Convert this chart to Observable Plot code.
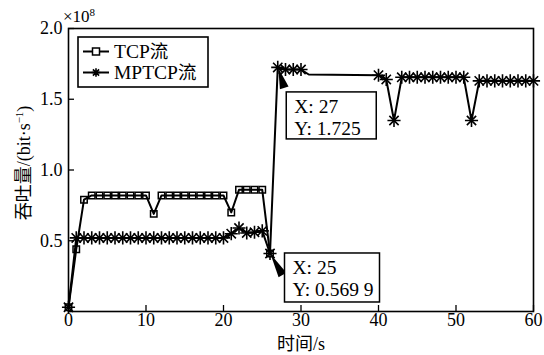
<!DOCTYPE html>
<html><head><meta charset="utf-8">
<script src="https://cdn.jsdelivr.net/npm/d3@7"></script>
<script src="https://cdn.jsdelivr.net/npm/@observablehq/plot@0.6"></script>
<style>
body{margin:0;background:#fff}
#wrap{position:relative;width:544px;height:355px;overflow:hidden}
</style></head>
<body><div id="wrap"></div>
<script>
// ---- data (values in units of 10^8 bit/s) ----
const tcpTime  = [0,1,2,3,4,5,6,7,8,9,10,11,12,13,14,15,16,17,18,19,20,21,22,23,24,25,26];
const tcpValue = [0.03,0.44,0.79,0.82,0.82,0.82,0.82,0.82,0.82,0.82,0.82,0.69,0.82,0.82,0.82,0.82,0.82,0.82,0.82,0.82,0.82,0.70,0.86,0.86,0.86,0.86,0.41];
const mptcpTime  = [0,1,2,3,4,5,6,7,8,9,10,11,12,13,14,15,16,17,18,19,20,21,22,23,24,25,26,27,28,29,30,31,40,41,42,43,44,45,46,47,48,49,50,51,52,53,54,55,56,57,58,59,60];
const mptcpValue = [0.03,0.52,0.52,0.52,0.52,0.52,0.52,0.52,0.52,0.52,0.52,0.52,0.52,0.52,0.52,0.52,0.52,0.52,0.52,0.52,0.52,0.55,0.59,0.555,0.56,0.5699,0.41,1.725,1.71,1.71,1.71,1.675,1.67,1.64,1.35,1.655,1.655,1.655,1.655,1.655,1.655,1.655,1.655,1.655,1.35,1.63,1.63,1.63,1.63,1.63,1.63,1.63,1.63];
const mptcpUnmarked = [31];
const seriesNames = ["TCP流","MPTCP流"];
const xTicks = [0,10,20,30,40,50,60];
const yTicks = [0.5,1.0,1.5,2.0];
const tips = [
  {label:["X: 27","Y: 1.725"], x:27, y:1.725},
  {label:["X: 25","Y: 0.569 9"], x:26, y:0.41}
];

const SERIF = "'Liberation Serif', 'Times New Roman', 'DejaVu Serif', serif";
const CJK = "'Noto Sans CJK SC', sans-serif";

const tcp = tcpTime.map((t,i)=>({t, v:tcpValue[i]}));
const mptcp = mptcpTime.map((t,i)=>({t, v:mptcpValue[i]}));
const mptcpMarked = mptcp.filter(d=>!mptcpUnmarked.includes(d.t));

const plot = Plot.plot({
  width:544, height:355,
  marginLeft:68, marginRight:11, marginTop:28, marginBottom:44,
  x:{domain:[0,60]},
  y:{domain:[0,2]},
  style:{fontFamily:SERIF, fontSize:"18px", color:"#000", background:"#fff", overflow:"visible"},
  marks:[
    Plot.axisX(xTicks,{tickSize:-6, tickPadding:8, label:null, fontSize:18, strokeWidth:1.3}),
    Plot.axisY(yTicks,{tickSize:-6, tickPadding:12, label:null, fontSize:18, strokeWidth:1.3, tickFormat:d3.format(".1f")}),
    Plot.frame({stroke:"#000", strokeWidth:1.6}),
    Plot.line(tcp,{x:"t", y:"v", stroke:"#000", strokeWidth:2, curve:"linear"}),
    Plot.line(mptcp,{x:"t", y:"v", stroke:"#000", strokeWidth:2, curve:"linear"}),
    Plot.dot(tcp,{x:"t", y:"v", symbol:"square2", r:4.1, stroke:"#000", strokeWidth:1.5}),
    Plot.dot(mptcpMarked,{x:"t", y:"v", symbol:"plus", r:4.3, stroke:"#000", strokeWidth:1.6}),
    Plot.dot(mptcpMarked,{x:"t", y:"v", symbol:"times", r:4.3, stroke:"#000", strokeWidth:1.6})
  ]
});
const wrap = document.getElementById("wrap");
wrap.appendChild(plot);

const sx = plot.scale("x"), sy = plot.scale("y");
const svg = d3.select(plot);

// data tips: arrow + box
const tipOffsets = [{bx:9, by:25, w:90, h:47}, {bx:15, by:0, w:95, h:49}];
tips.forEach((tp,i)=>{
  const px = sx.apply(tp.x), py = sy.apply(tp.y);
  const o = tipOffsets[i];
  const bx = px + o.bx, by = py + o.by;
  const tipX = px + 1, tipY = py + 1;
  const baseX = bx - 2, baseY = by + (i===0 ? -4 : 22);
  const ang = Math.atan2(baseY-tipY, baseX-tipX);
  const hw = 4.5;
  const p1 = [baseX - hw*Math.sin(ang), baseY + hw*Math.cos(ang)];
  const p2 = [baseX + hw*Math.sin(ang), baseY - hw*Math.cos(ang)];
  svg.append("polygon").attr("points", `${tipX},${tipY} ${p1} ${p2}`).attr("fill","#000");
  svg.append("rect").attr("x",bx).attr("y",by).attr("width",o.w).attr("height",o.h)
    .attr("fill","#fff").attr("stroke","#000").attr("stroke-width",1.5);
  tp.label.forEach((s,j)=>{
    svg.append("text").attr("x",bx+8).attr("y",by+21+j*22).attr("text-anchor","start")
      .style("font-family",SERIF).style("font-size","19.5px").attr("fill","#000").text(s);
  });
});

// legend
const lg = svg.append("g").attr("text-anchor","start");
lg.append("rect").attr("x",78).attr("y",37).attr("width",130).attr("height",50)
  .attr("fill","#fff").attr("stroke","#000").attr("stroke-width",1.6);
seriesNames.forEach((name,i)=>{
  const yy = 51.5 + i*21;
  lg.append("line").attr("x1",83).attr("x2",109).attr("y1",yy).attr("y2",yy).attr("stroke","#000").attr("stroke-width",2);
  if(i===0){
    lg.append("rect").attr("x",92.5).attr("y",yy-3.5).attr("width",7).attr("height",7)
      .attr("fill","#fff").attr("stroke","#000").attr("stroke-width",1.5);
  } else {
    const c = 96, r = 4.3;
    lg.append("path").attr("d",`M${c-r},${yy}H${c+r}M${c},${yy-r}V${yy+r}M${c-r*0.72},${yy-r*0.72}L${c+r*0.72},${yy+r*0.72}M${c-r*0.72},${yy+r*0.72}L${c+r*0.72},${yy-r*0.72}`)
      .attr("stroke","#000").attr("stroke-width",1.6);
  }
  const tx = lg.append("text").attr("x",114).attr("y",yy+6.5).style("font-size","19.5px").attr("fill","#000")
    .style("font-family",SERIF);
  tx.append("tspan").text(name.slice(0,-1));
  tx.append("tspan").style("font-family",CJK).style("font-size","18.5px").text(name.slice(-1));
});

// exponent label
const ext = svg.append("text").attr("x",63).attr("y",22).attr("text-anchor","start")
  .style("font-family",SERIF).style("font-size","17px").attr("fill","#000");
ext.append("tspan").text("×10");
ext.append("tspan").attr("dy",-6).style("font-size","11px").text("8");

// x axis title
const xt = svg.append("text").attr("x",301).attr("y",350).attr("text-anchor","middle")
  .style("font-size","18px").attr("fill","#000");
xt.append("tspan").style("font-family",CJK).text("时间");
xt.append("tspan").style("font-family",SERIF).text("/s");

// y axis title
const yt = svg.append("text").attr("transform","translate(30,163) rotate(-90)").attr("text-anchor","middle")
  .style("font-size","18px").style("opacity",0.999).attr("fill","#000");
yt.append("tspan").style("font-family",CJK).text("吞吐量");
yt.append("tspan").style("font-family",SERIF).text("/(bit·s");
yt.append("tspan").style("font-family",SERIF).style("font-size","11px").attr("dy",-7).text("−1");
yt.append("tspan").style("font-family",SERIF).attr("dy",7).text(")");
</script>
</body></html>
